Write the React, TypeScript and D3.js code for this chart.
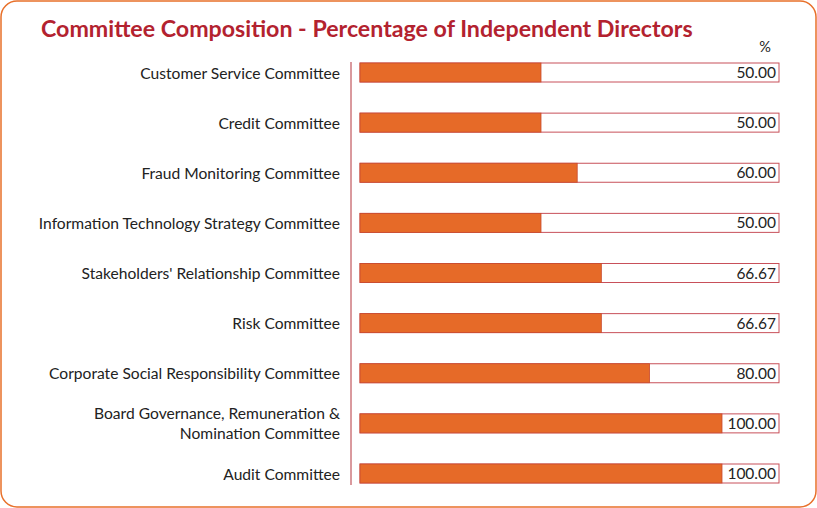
import React from 'react'
import * as d3 from 'd3'

const committees = [
  'Customer Service Committee',
  'Credit Committee',
  'Fraud Monitoring Committee',
  'Information Technology Strategy Committee',
  "Stakeholders' Relationship Committee",
  'Risk Committee',
  'Corporate Social Responsibility Committee',
  'Board Governance, Remuneration & Nomination Committee',
  'Audit Committee',
]
const labelLines = [
  ['Customer Service Committee'],
  ['Credit Committee'],
  ['Fraud Monitoring Committee'],
  ['Information Technology Strategy Committee'],
  ["Stakeholders' Relationship Committee"],
  ['Risk Committee'],
  ['Corporate Social Responsibility Committee'],
  ['Board Governance, Remuneration &', 'Nomination Committee'],
  ['Audit Committee'],
]
const independentPct = [50, 50, 60, 50, 66.67, 66.67, 80, 100, 100]

const W = 817
const H = 508
const FONT = 'Lato, "Noto Sans", sans-serif'

export default function App(): JSX.Element {
  const x = d3.scaleLinear().domain([0, 100]).range([360, 722])
  const y = d3.scalePoint<string>().domain(committees).range([72.5, 473.5])
  const barH = 19
  const trackEnd = 779

  return (
    <svg width={W} height={H} style={{ position: 'absolute', left: 0, top: 0 }} fontFamily={FONT}>
      <rect x={1} y={1} width={W - 2} height={H - 2} rx={16} fill="#fff" stroke="#E8702A" strokeWidth={1.5} />
      <text x={41} y={37} fontSize={23.2} fontWeight={700} fill="#B3222F">
        Committee Composition - Percentage of Independent Directors
      </text>
      <text x={765} y={52} fontSize={14.5} fill="#222" textAnchor="middle">%</text>
      <line x1={351} x2={351} y1={62} y2={485} stroke="#B5343C" strokeWidth={1} />
      {committees.map((c, i) => {
        const cy = y(c) as number
        const lines = labelLines[i]
        return (
          <g key={c}>
            <rect x={x(0)} y={cy - barH / 2} width={trackEnd - x(0)} height={barH} fill="#fff" stroke="#C8505A" strokeWidth={1} />
            <rect x={x(0)} y={cy - barH / 2} width={x(independentPct[i]) - x(0)} height={barH} fill="#E66A28" stroke="#C84A2E" strokeWidth={0.8} />
            <text x={776} y={cy + 5.5} fontSize={15.5} fill="#222" textAnchor="end">
              {independentPct[i].toFixed(2)}
            </text>
            {lines.map((l, j) => (
              <text key={j} x={340} y={cy + 6 + (j - (lines.length - 1) / 2) * 20} fontSize={15.6} fill="#222" textAnchor="end">
                {l}
              </text>
            ))}
          </g>
        )
      })}
    </svg>
  )
}
